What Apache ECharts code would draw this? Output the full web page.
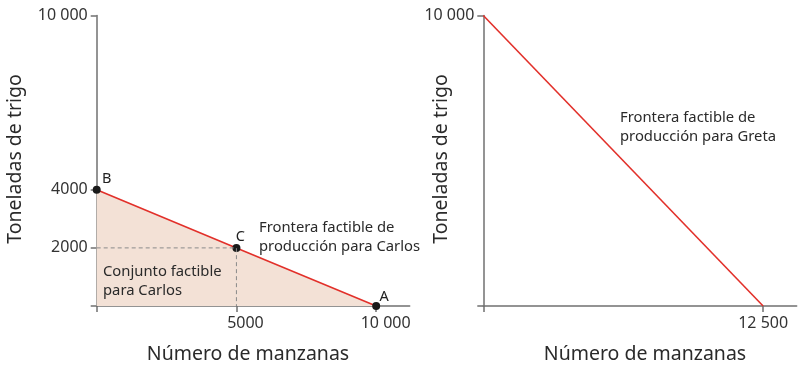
<!DOCTYPE html>
<html><head><meta charset="utf-8">
<script src="https://cdn.jsdelivr.net/npm/echarts@6/dist/echarts.min.js"></script>
<style>html,body{margin:0;padding:0;background:#fff}#c{width:810px;height:372px}</style>
</head><body><div id="c"></div>
<script>
// ---- data ----
const carlosX = [0, 5000, 10000];
const carlosY = [4000, 2000, 0];
const carlosPointNames = ['B', 'C', 'A'];
const gretaX = [0, 12500];
const gretaY = [10000, 0];
const pointC = [5000, 2000];
const leftXTicks = [0, 5000, 10000];
const leftXTickLabels = ['', '5000', '10 000'];
const leftYTicks = [0, 2000, 4000, 10000];
const leftYTickLabels = ['', '2000', '4000', '10 000'];
const rightXTicks = [0, 12500];
const rightXTickLabels = ['', '12 500'];
const rightYTicks = [0, 10000];
const rightYTickLabels = ['', '10 000'];
const xTitle = 'Número de manzanas';
const yTitle = 'Toneladas de trigo';
const carlosFrontierText = 'Frontera factible de\nproducción para Carlos';
const carlosSetText = 'Conjunto factible\npara Carlos';
const gretaFrontierText = 'Frontera factible de\nproducción para Greta';

// ---- styling ----
const FONT = '"Noto Sans", "Open Sans", sans-serif';
const AXIS = '#707070';
const RED = '#e2302a';
const FILL = '#f3e1d6';
const labelFor = (vals, labels) => v => { const i = vals.indexOf(v); return i >= 0 ? labels[i] : ''; };

function xAxisCfg(gi, max, ticks, labels, rich) {
  return {
    type: 'value', gridIndex: gi, min: 0, max: max,
    splitLine: { show: false },
    axisLine: { lineStyle: { color: AXIS, width: 1.5 } },
    axisTick: { show: true, customValues: ticks, length: 6, inside: false, lineStyle: { color: AXIS, width: 1.5 } },
    axisLabel: {
      customValues: ticks, margin: 9, color: '#333', fontFamily: FONT, fontSize: 16,
      formatter: rich ? (v => { const i = ticks.indexOf(v); return labels[i] ? '{' + rich.keys[i] + '|' + labels[i] + '}' : ''; }) : labelFor(ticks, labels),
      rich: rich ? rich.styles : undefined
    }
  };
}
function yAxisCfg(gi, ticks, labels) {
  return {
    type: 'value', gridIndex: gi, min: 0, max: 10000,
    splitLine: { show: false },
    axisLine: { lineStyle: { color: AXIS, width: 1.5 } },
    axisTick: { show: true, customValues: ticks, length: 6, lineStyle: { color: AXIS, width: 1.5 } },
    axisLabel: { customValues: ticks, margin: 9, color: '#333', fontFamily: FONT, fontSize: 16, formatter: labelFor(ticks, labels) }
  };
}

const labelOffsets = { B: [10, 6], C: [4, 5], A: [8, 7] };
const carlosData = carlosX.map((x, i) => ({
  value: [x, carlosY[i]], name: carlosPointNames[i],
  label: { show: true, position: 'top', offset: labelOffsets[carlosPointNames[i]], formatter: '{b}', color: '#222', fontFamily: FONT, fontSize: 14.5 }
}));

const titleStyle = { fill: '#2a2a2a', font: '19.5px ' + FONT, align: 'center', verticalAlign: 'middle' };
const noteStyle = t => ({ text: t, fill: '#2a2a2a', font: '14.8px ' + FONT, lineHeight: 18.5 });

const chart = echarts.init(document.getElementById('c'), null, { renderer: 'canvas' });
chart.setOption({
  animation: false,
  backgroundColor: '#fff',
  grid: [
    { left: 96.7, top: 15.5, width: 313, height: 290.5 },
    { left: 483.3, top: 15.5, width: 313.4, height: 290.5 }
  ],
  xAxis: [
    xAxisCfg(0, 11200, leftXTicks, leftXTickLabels, { keys: ['z', 'a', 'b'], styles: { a: { fontFamily: FONT, fontSize: 16, color: '#333', padding: [0, 0, 0, 18] }, b: { fontFamily: FONT, fontSize: 16, color: '#333', padding: [0, 0, 0, 19] } } }),
    xAxisCfg(1, 14000, rightXTicks, rightXTickLabels)
  ],
  yAxis: [
    yAxisCfg(0, leftYTicks, leftYTickLabels),
    yAxisCfg(1, rightYTicks, rightYTickLabels)
  ],
  series: [
    {
      type: 'line', xAxisIndex: 0, yAxisIndex: 0, z: 3,
      data: carlosData, symbol: 'circle', symbolSize: 8, clip: false,
      itemStyle: { color: '#1a1a1a' },
      lineStyle: { color: RED, width: 1.6 },
      areaStyle: { color: FILL, opacity: 1, origin: 'start' }
    },
    {
      type: 'line', xAxisIndex: 0, yAxisIndex: 0, z: 4,
      data: [[carlosX[0], pointC[1]], pointC, [pointC[0], carlosY[2]]],
      symbol: 'none', lineStyle: { color: '#8a8a8a', width: 1, type: [4, 3] }, silent: true
    },
    {
      type: 'line', xAxisIndex: 1, yAxisIndex: 1, z: 3,
      data: gretaX.map((x, i) => [x, gretaY[i]]), symbol: 'none',
      lineStyle: { color: RED, width: 1.6 }
    }
  ],
  graphic: [
    { type: 'text', x: 15, y: 159, rotation: Math.PI / 2, z: 10, style: Object.assign({ text: yTitle }, titleStyle) },
    { type: 'text', x: 441, y: 159, rotation: Math.PI / 2, z: 10, style: Object.assign({ text: yTitle }, titleStyle) },
    { type: 'text', x: 248, y: 354, z: 10, style: Object.assign({ text: xTitle }, titleStyle) },
    { type: 'text', x: 645, y: 354, z: 10, style: Object.assign({ text: xTitle }, titleStyle) },
    { type: 'text', left: 259, top: 219, z: 10, style: noteStyle(carlosFrontierText) },
    { type: 'text', left: 103, top: 263, z: 10, style: noteStyle(carlosSetText) },
    { type: 'text', left: 620, top: 109, z: 10, style: noteStyle(gretaFrontierText) }
  ]
});
</script></body></html>
